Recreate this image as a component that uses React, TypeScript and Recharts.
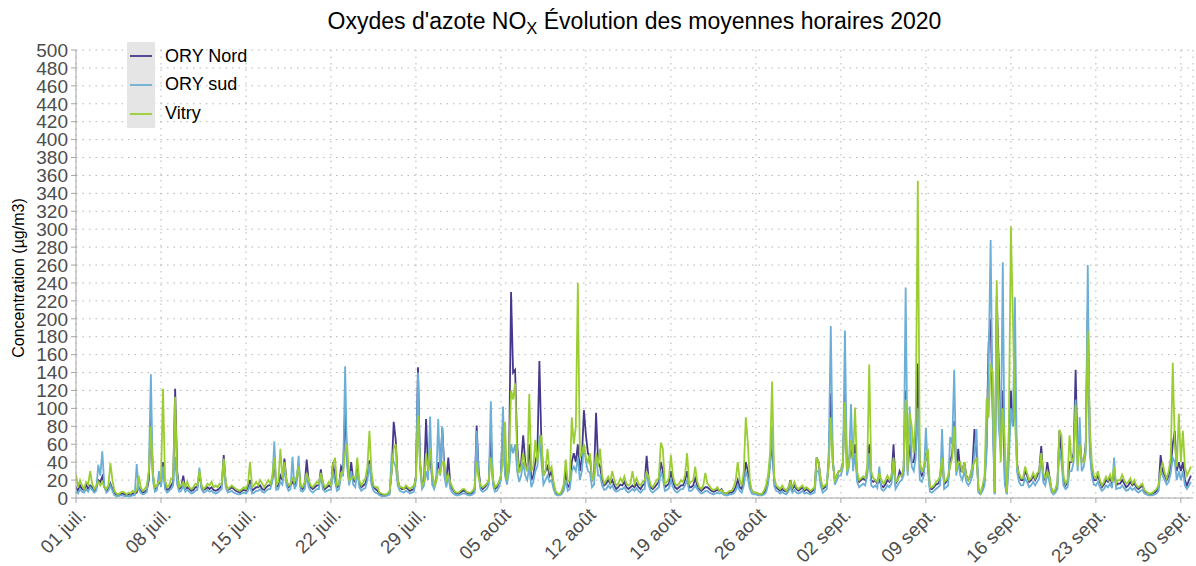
import React from 'react';
import { LineChart, Line, XAxis, YAxis, CartesianGrid, Legend } from 'recharts';

const nordJuillet = [
  12, 8, 14, 10, 9, 15, 10, 14, 12, 8, 10, 20, 18, 24, 12, 8, 10, 16, 10, 5, 4, 3, 4, 5,
  4, 3, 4, 3, 5, 5, 6, 12, 8, 6, 7, 9, 20, 90, 25, 10, 12, 18, 15, 40, 14, 9, 10, 14,
  18, 122, 30, 10, 12, 25, 10, 12, 10, 8, 9, 12, 12, 28, 12, 9, 10, 12, 10, 12, 9, 8, 9, 11,
  14, 48, 15, 9, 10, 12, 10, 8, 7, 6, 8, 9, 8, 12, 20, 8, 10, 12, 12, 14, 10, 9, 12, 14,
  14, 20, 40, 12, 14, 25, 20, 44, 20, 12, 14, 18, 14, 20, 38, 12, 10, 14, 43, 18, 12, 10, 12, 14,
  14, 32, 14, 10, 12, 14, 12, 40, 22, 12, 14, 35, 30, 100, 40, 18, 40, 20, 18, 35, 16, 12, 14, 16,
  25, 42, 20, 12, 10, 8, 5, 4, 3, 3, 4, 6, 30, 85, 65, 20, 12, 10, 10, 12, 10, 8, 9, 10,
  25, 146, 40, 15, 20, 88, 30, 50, 20, 14, 20, 40, 30, 78, 35, 20, 45, 15,
];
const nordAout = [
  10, 7, 5, 5, 6, 8, 8, 6, 5, 5, 6, 9, 81, 30, 12, 10, 12, 15, 20, 70, 20, 10, 12, 16,
  25, 85, 30, 20, 40, 230, 140, 143, 60, 30, 40, 70, 40, 30, 60, 20, 25, 40, 50, 153, 60, 25, 30, 35,
  25, 30, 15, 6, 4, 4, 6, 12, 30, 12, 15, 40, 50, 40, 60, 30, 45, 98, 70, 50, 45, 20, 25, 95,
  40, 35, 20, 14, 16, 20, 16, 20, 14, 10, 12, 15, 14, 18, 12, 10, 12, 14, 12, 16, 12, 10, 14, 16,
  47, 20, 12, 10, 12, 15, 18, 40, 30, 12, 14, 16, 30, 18, 12, 10, 12, 14, 14, 20, 30, 12, 12, 14,
  22, 14, 10, 8, 10, 12, 12, 10, 8, 7, 8, 9, 8, 10, 6, 5, 5, 6, 6, 8, 12, 20, 12, 10,
  20, 40, 30, 14, 8, 6, 6, 5, 4, 4, 6, 10, 20, 40, 60, 20, 12, 10, 8, 10, 8, 7, 10, 20,
  10, 14, 10, 8, 10, 12, 8, 10, 8, 6, 8, 10, 45, 40, 20, 10, 12, 14,
];
const nordSeptembre = [
  40, 117, 40, 20, 25, 30, 30, 40, 120, 30, 40, 60, 40, 60, 25, 18, 20, 22, 20, 30, 60, 20, 18, 20,
  16, 20, 14, 12, 15, 20, 18, 22, 60, 16, 20, 30, 25, 30, 120, 30, 60, 40, 40, 60, 150, 30, 25, 30,
  50, 40, 10, 10, 12, 15, 16, 20, 50, 15, 18, 20, 40, 50, 86, 30, 55, 30, 30, 40, 25, 20, 25, 35,
  77, 50, 8, 5, 10, 20, 60, 172, 200, 100, 5, 225, 150, 60, 120, 20, 5, 60, 120, 80, 120, 40, 25, 20,
  20, 30, 25, 18, 20, 25, 20, 25, 30, 58, 25, 20, 40, 25, 10, 5, 8, 15, 75, 50, 20, 14, 18, 40,
  40, 50, 143, 40, 65, 40, 40, 60, 210, 60, 30, 20, 20, 25, 18, 12, 15, 20, 18, 22, 16, 30, 14, 16,
  16, 20, 16, 12, 14, 18, 14, 16, 12, 10, 12, 14, 8, 6, 5, 4, 5, 6, 8, 12, 48, 30, 25, 20,
  25, 35, 60, 75, 30, 40, 30, 40, 20, 14, 20, 25,
];

const sudJuillet = [
  8, 5, 10, 7, 6, 10, 7, 12, 9, 6, 8, 37, 25, 52, 14, 6, 8, 14, 8, 3, 2, 2, 3, 3,
  2, 2, 2, 2, 3, 3, 38, 10, 6, 4, 5, 7, 30, 138, 20, 7, 9, 30, 12, 35, 10, 6, 8, 10,
  14, 46, 15, 7, 8, 14, 7, 9, 7, 5, 6, 8, 9, 34, 10, 6, 7, 9, 7, 8, 6, 5, 6, 8,
  10, 42, 12, 6, 7, 8, 6, 5, 4, 4, 5, 6, 5, 8, 14, 5, 6, 8, 8, 10, 7, 6, 8, 10,
  10, 18, 63, 9, 10, 18, 15, 35, 14, 8, 10, 46, 10, 15, 47, 8, 7, 10, 25, 12, 8, 6, 8, 10,
  10, 26, 10, 7, 8, 9, 9, 30, 18, 8, 10, 25, 25, 147, 35, 14, 30, 15, 12, 30, 12, 8, 10, 11,
  20, 38, 15, 8, 6, 5, 3, 2, 2, 2, 3, 4, 50, 40, 35, 14, 8, 7, 6, 8, 7, 5, 6, 7,
  20, 140, 35, 10, 14, 30, 20, 91, 15, 10, 18, 88, 25, 80, 25, 12, 25, 10,
];
const sudAout = [
  6, 4, 3, 3, 4, 5, 5, 4, 3, 3, 4, 6, 75, 25, 9, 7, 8, 10, 15, 108, 15, 7, 8, 12,
  20, 102, 25, 15, 30, 60, 50, 60, 30, 18, 25, 40, 25, 20, 35, 12, 18, 30, 35, 70, 40, 15, 20, 25,
  18, 20, 10, 4, 3, 3, 4, 8, 20, 8, 10, 30, 35, 30, 45, 20, 30, 60, 40, 30, 28, 12, 15, 50,
  25, 25, 14, 9, 10, 14, 11, 14, 9, 7, 8, 10, 10, 12, 8, 6, 8, 10, 8, 11, 8, 6, 9, 10,
  30, 14, 8, 6, 8, 10, 12, 30, 22, 8, 9, 11, 20, 12, 8, 6, 8, 10, 10, 14, 20, 8, 8, 10,
  14, 10, 7, 5, 6, 8, 8, 6, 5, 4, 5, 6, 5, 6, 4, 3, 3, 4, 4, 5, 8, 14, 8, 6,
  14, 30, 22, 10, 5, 4, 4, 3, 3, 3, 4, 6, 15, 35, 80, 14, 8, 7, 5, 7, 5, 4, 7, 12,
  6, 9, 6, 5, 6, 8, 5, 6, 5, 4, 5, 6, 30, 30, 14, 6, 8, 10,
];
const sudSeptembre = [
  52, 192, 45, 15, 20, 25, 25, 35, 187, 25, 35, 105, 30, 50, 18, 12, 14, 16, 14, 25, 50, 14, 12, 14,
  11, 35, 10, 8, 10, 14, 12, 16, 40, 10, 14, 18, 20, 25, 235, 25, 102, 35, 30, 45, 100, 20, 18, 25,
  78, 30, 7, 6, 8, 10, 12, 14, 77, 10, 12, 14, 68, 60, 143, 25, 40, 25, 20, 30, 18, 14, 18, 25,
  50, 77, 6, 4, 8, 14, 50, 150, 288, 90, 4, 180, 80, 50, 263, 15, 4, 40, 100, 80, 224, 30, 18, 14,
  14, 22, 18, 12, 14, 18, 14, 18, 22, 45, 18, 14, 28, 18, 7, 4, 6, 10, 55, 40, 14, 10, 12, 30,
  30, 40, 110, 30, 90, 30, 35, 50, 260, 50, 25, 15, 14, 18, 12, 8, 10, 14, 12, 16, 11, 45, 10, 11,
  11, 14, 11, 8, 9, 12, 9, 11, 8, 6, 8, 9, 5, 4, 3, 3, 3, 4, 5, 8, 30, 25, 20, 15,
  18, 28, 45, 40, 20, 30, 20, 30, 14, 10, 14, 18,
];

const vitryJuillet = [
  26, 12, 20, 14, 10, 18, 15, 30, 16, 10, 14, 18, 14, 18, 12, 10, 14, 39, 20, 8, 5, 4, 6, 7,
  6, 4, 6, 5, 8, 6, 8, 25, 12, 8, 10, 14, 30, 80, 28, 12, 14, 18, 20, 122, 20, 12, 14, 22,
  22, 113, 25, 12, 14, 18, 12, 18, 12, 10, 12, 16, 14, 30, 15, 10, 12, 16, 14, 18, 12, 14, 12, 16,
  16, 44, 18, 10, 12, 14, 12, 10, 9, 8, 10, 12, 10, 16, 40, 12, 14, 18, 14, 20, 16, 12, 16, 20,
  16, 24, 45, 15, 18, 55, 22, 40, 20, 14, 16, 22, 18, 24, 35, 14, 12, 18, 28, 20, 14, 12, 15, 18,
  16, 28, 18, 12, 14, 18, 14, 38, 45, 14, 16, 28, 28, 50, 60, 20, 22, 24, 20, 45, 20, 14, 18, 22,
  35, 75, 30, 14, 12, 12, 6, 5, 4, 4, 5, 8, 30, 55, 60, 20, 12, 12, 10, 14, 12, 10, 12, 14,
  22, 92, 40, 14, 18, 50, 30, 55, 30, 14, 18, 30, 28, 40, 40, 20, 25, 18,
];
const vitryAout = [
  12, 8, 6, 6, 8, 10, 10, 7, 6, 6, 8, 12, 40, 22, 14, 12, 14, 16, 20, 45, 22, 12, 14, 18,
  25, 40, 85, 20, 45, 120, 110, 128, 50, 28, 35, 50, 35, 30, 116, 30, 35, 65, 40, 60, 70, 25, 30, 55,
  30, 35, 18, 8, 5, 4, 8, 15, 43, 18, 20, 90, 60, 80, 240, 45, 50, 60, 45, 40, 50, 20, 25, 50,
  35, 55, 25, 16, 20, 24, 18, 30, 20, 14, 16, 22, 18, 24, 16, 14, 16, 30, 16, 22, 16, 14, 18, 20,
  28, 24, 14, 12, 16, 20, 22, 62, 55, 16, 18, 22, 48, 24, 16, 14, 16, 20, 18, 26, 50, 16, 18, 20,
  35, 18, 12, 10, 14, 28, 16, 14, 10, 9, 10, 12, 8, 9, 6, 5, 6, 8, 8, 12, 20, 40, 20, 14,
  30, 90, 62, 20, 8, 6, 6, 5, 4, 5, 8, 14, 25, 50, 130, 25, 14, 12, 10, 14, 10, 8, 12, 18,
  12, 18, 12, 10, 12, 14, 10, 12, 10, 8, 10, 12, 45, 40, 22, 12, 14, 16,
];
const vitrySeptembre = [
  35, 90, 40, 20, 25, 30, 30, 40, 107, 30, 40, 65, 45, 101, 30, 20, 22, 24, 22, 35, 149, 30, 22, 20,
  18, 28, 20, 16, 20, 25, 20, 25, 45, 18, 20, 25, 25, 35, 110, 30, 95, 80, 50, 90, 354, 40, 30, 35,
  45, 55, 12, 12, 14, 18, 20, 24, 45, 18, 20, 25, 35, 45, 80, 30, 40, 40, 28, 40, 24, 20, 26, 35,
  40, 45, 10, 6, 14, 25, 111, 90, 150, 140, 6, 243, 120, 40, 100, 60, 6, 80, 303, 200, 90, 35, 28, 22,
  22, 35, 28, 20, 22, 28, 22, 28, 30, 50, 28, 22, 30, 24, 12, 6, 10, 18, 76, 70, 25, 16, 20, 70,
  40, 45, 104, 35, 60, 40, 40, 55, 187, 80, 40, 25, 22, 30, 20, 14, 18, 24, 20, 26, 18, 35, 16, 20,
  20, 26, 20, 16, 18, 22, 16, 20, 14, 12, 14, 16, 9, 7, 5, 5, 6, 8, 10, 15, 30, 40, 28, 22,
  30, 45, 151, 60, 35, 94, 40, 75, 35, 25, 30, 35,
];

const seriesNames = ['ORY Nord', 'ORY sud', 'Vitry'];
const seriesColors = ['#45398C', '#6BAED6', '#9ACD32'];
const tickLabels = [
  '01 juil.', '08 juil.', '15 juil.', '22 juil.', '29 juil.', '05 août', '12 août',
  '19 août', '26 août', '02 sept.', '09 sept.', '16 sept.', '23 sept.', '30 sept.',
];
const tickHours = [0, 168, 336, 504, 672, 840, 1008, 1176, 1344, 1512, 1680, 1848, 2016, 2184];
const yTicks = [
  0, 20, 40, 60, 80, 100, 120, 140, 160, 180, 200, 220, 240, 260, 280, 300, 320, 340, 360,
  380, 400, 420, 440, 460, 480, 500,
];

const HOURS_PER_SAMPLE = 4;
const nord = [...nordJuillet, ...nordAout, ...nordSeptembre];
const sud = [...sudJuillet, ...sudAout, ...sudSeptembre];
const vitry = [...vitryJuillet, ...vitryAout, ...vitrySeptembre];
const data = nord.map((v, i) => ({
  h: i * HOURS_PER_SAMPLE,
  nord: v,
  sud: sud[i],
  vitry: vitry[i],
}));

const FONT = '"Liberation Sans", Arial, Helvetica, sans-serif';
const TICK_COLOR = '#4d4d4d';

const XTick = (props: any) => {
  const { x, y, payload } = props;
  const idx = tickHours.indexOf(payload.value);
  const label = idx >= 0 ? tickLabels[idx] : '';
  const tx = x + 11;
  const ty = y + 11;
  return (
    <text
      x={tx}
      y={ty}
      textAnchor="end"
      fill={TICK_COLOR}
      fontSize={19}
      fontFamily={FONT}
      transform={`rotate(-45, ${tx}, ${ty})`}
    >
      {label}
    </text>
  );
};

const LegendBox = () => (
  <div style={{ position: 'relative', fontFamily: FONT, fontSize: 18, color: '#000' }}>
    <div style={{ position: 'absolute', left: 0, top: 0, width: 28, height: 86, background: '#e5e5e5' }} />
    {seriesNames.map((name, i) => (
      <div
        key={name}
        style={{ position: 'relative', height: 28.67, display: 'flex', alignItems: 'center', whiteSpace: 'nowrap' }}
      >
        <svg width={28} height={4} style={{ display: 'block' }}>
          <line x1={3} y1={2} x2={25} y2={2} stroke={seriesColors[i]} strokeWidth={1.8} />
        </svg>
        <span style={{ marginLeft: 10 }}>{name}</span>
      </div>
    ))}
  </div>
);

const YLabel = (props: any) => {
  const vb = props.viewBox || { x: 0, y: 50, width: 76, height: 448 };
  const cx = 18;
  const cy = vb.y + vb.height / 2 + 4;
  return (
    <text
      x={cx}
      y={cy}
      textAnchor="middle"
      dominantBaseline="central"
      fill="#000"
      fontSize={16}
      fontFamily={FONT}
      transform={`rotate(-90, ${cx}, ${cy})`}
    >
      Concentration (µg/m3)
    </text>
  );
};

export default function App() {
  return (
    <div style={{ position: 'absolute', left: 0, top: 0, width: 1196, height: 566, background: '#fff', fontFamily: FONT }}>
      <div
        style={{
          position: 'absolute',
          left: 76,
          width: 1117,
          top: 8,
          textAlign: 'center',
          fontSize: 23,
          lineHeight: '26px',
          color: '#000',
          whiteSpace: 'nowrap',
        }}
      >
        Oxydes d'azote NO
        <span style={{ fontSize: '0.72em', position: 'relative', top: '0.3em' }}>X</span> Évolution des moyennes horaires 2020
      </div>
      <LineChart
        width={1196}
        height={566}
        data={data}
        margin={{ top: 50, right: 3, bottom: 0, left: 0 }}
        style={{ fontFamily: FONT }}
      >
        <CartesianGrid stroke="#b5b5b5" strokeDasharray="1.5 5" />
        <XAxis
          dataKey="h"
          type="number"
          domain={[0, 2208]}
          ticks={tickHours}
          interval={0}
          height={68}
          tick={<XTick />}
          tickSize={5}
          stroke="#a6a6a6"
          allowDataOverflow
        />
        <YAxis
          domain={[0, 500]}
          ticks={yTicks}
          interval={0}
          width={76}
          tickSize={5}
          tickMargin={3}
          stroke="#a6a6a6"
          tick={{ fill: TICK_COLOR, fontSize: 19, fontFamily: FONT }}
          label={<YLabel />}
          allowDataOverflow
        />
        <Legend
          layout="vertical"
          align="center"
          verticalAlign="middle"
          content={<LegendBox />}
          wrapperStyle={{ position: 'absolute', left: 127, top: 42, width: 200, height: 86 }}
        />
        <Line type="linear" dataKey="nord" name={seriesNames[0]} stroke={seriesColors[0]} strokeWidth={1.8} dot={false} isAnimationActive={false} />
        <Line type="linear" dataKey="sud" name={seriesNames[1]} stroke={seriesColors[1]} strokeWidth={1.8} dot={false} isAnimationActive={false} />
        <Line type="linear" dataKey="vitry" name={seriesNames[2]} stroke={seriesColors[2]} strokeWidth={1.8} dot={false} isAnimationActive={false} />
      </LineChart>
    </div>
  );
}
